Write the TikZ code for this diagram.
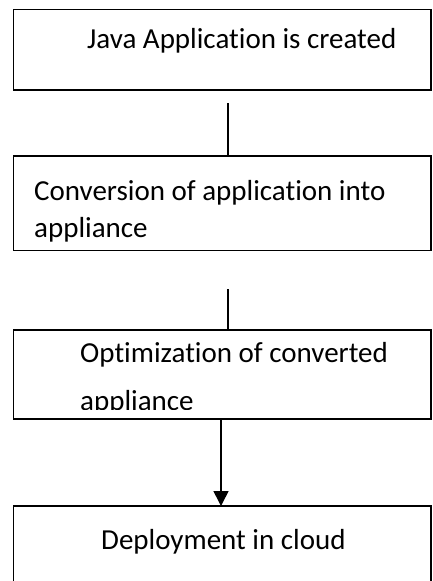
\documentclass[tikz,border=0pt]{standalone}
\usepackage{fontspec}
\setmainfont{Carlito}[Ligatures=NoCommon]
\usetikzlibrary{arrows.meta}
\begin{document}
\begin{tikzpicture}[x=1pt,y=-1pt,
  stepbox/.style={draw=black,line width=1.6pt,rectangle,inner sep=0pt,outer sep=0pt,
                  minimum width=417.5pt},
  steptext/.style={anchor=base west,inner sep=0pt,font=\fontsize{29}{35}\selectfont},
  link/.style={draw=black,line width=1.6pt}]
  \useasboundingbox (0,0) rectangle (432,581);
  \clip (0,0) rectangle (432,581);

  % process boxes
  \node[stepbox,minimum height=80.5pt] (b1) at (222.25,49.75) {};
  \node[stepbox,minimum height=94.5pt] (b2) at (222.25,203.25) {};
  \node[stepbox,minimum height=89pt]   (b3) at (222.25,374.5) {};
  \node[stepbox,minimum height=94pt]   (b4) at (222.25,553) {};

  % loose ends of the two plain links
  \coordinate (l1start) at (228,103);
  \coordinate (l2start) at (228,289);

  % labels
  \node[steptext] (t1) at (87,48) {Java Application is created};
  \node[steptext] (t2a) at (34,200) {Conversion of application into};
  \node[steptext] (t2b) at (34,237) {appliance};
  \node[steptext] (t3a) at (80,362) {Optimization of converted};
  \begin{scope}
    \clip (14,380) rectangle (430,409);
    \node[steptext] (t3b) at (80,410) {appliance};
  \end{scope}
  \node[steptext] (t4) at (101,549) {Deployment in cloud};

  % connectors
  \draw[link] (l1start) -- (l1start |- b2.north);
  \draw[link] (l2start) -- (l2start |- b3.north);
  \draw[link,-{Triangle[width=15pt,length=15pt]}] (b3.south -| 221,0) -- (b4.north -| 221,0);
\end{tikzpicture}
\end{document}
